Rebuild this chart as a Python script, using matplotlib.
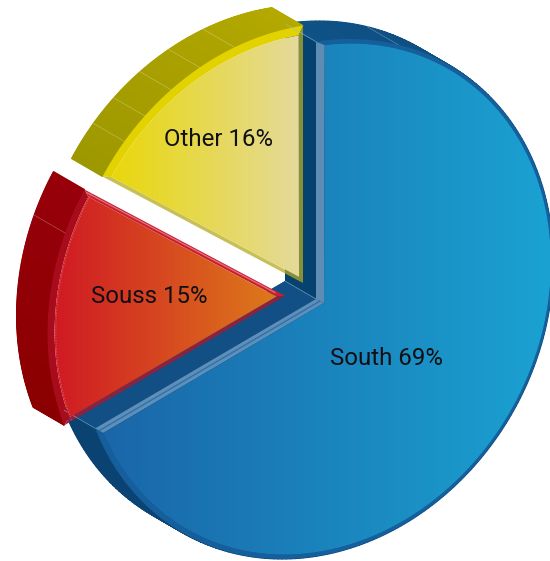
import numpy as np
import matplotlib
matplotlib.use("Agg")
import matplotlib.pyplot as plt
from matplotlib.colors import LinearSegmentedColormap, to_rgb
from matplotlib.patches import Polygon

# extruded, exploded pie of sales by region

names = ["Other", "Souss", "South"]
shares = [16, 15, 69]

# skewed ellipse used to project the pie, in pixels
A, B, C = 235.0, 34.0, 260.0
depth = np.array([-31.0, -18.0])
t0 = np.degrees(np.arctan2(A, -B))


def rim(t, k=1.0):
    t = np.radians(t)
    return k*np.column_stack([A*np.cos(t) + B*np.sin(t), -C*np.sin(t)])


def cross(a, b):
    return a[..., 0]*b[..., 1] - a[..., 1]*b[..., 0]


def face_outline(apex, inner, t1, t2, k, shift):
    # arc at scale k round apex, trimmed where it crosses the edges drawn from inner
    tt = np.linspace(t1, t2, 700)
    pts = apex + shift + rim(tt, k)
    keep = np.ones(len(tt), dtype=bool)
    d1, d2 = rim(np.array([t1, t2]))
    near1 = tt < t1 + 20
    near2 = tt > t2 - 20
    keep[near1] = cross(d1, pts[near1] - inner) < 0
    keep[near2] = cross(d2, pts[near2] - inner) > 0
    return pts[keep]


def blend(c1, c2, f):
    return tuple((1 - f)*np.array(to_rgb(c1)) + f*np.array(to_rgb(c2)))


def draw_slice(ax, s):
    t1, t2 = s["t1"], s["t2"]
    apex = np.array(s["apex"], dtype=float)
    inner = apex + s["inset"]
    tt = np.linspace(t1, t2, 240)
    outer = apex + rim(tt)

    # back plate and inner walls, only the big slice shows them
    if s["inner_walls"]:
        ax.add_patch(Polygon(np.vstack([apex + depth, outer + depth]), fc=s["wall"][0], ec="none"))
        ax.add_patch(Polygon([apex, apex + depth, outer[0] + depth, outer[0]], fc="#124f84", ec="none"))
        ax.add_patch(Polygon([apex, apex + depth, outer[-1] + depth, outer[-1]], fc="#06426f", ec="none"))

    # outer wall
    for i in range(len(tt) - 1):
        f = i/(len(tt) - 2)
        c = blend(s["wall"][0], s["wall"][1], f)
        ax.add_patch(Polygon([outer[i], outer[i+1], outer[i+1] + depth, outer[i] + depth],
                             fc=c, ec=c, lw=0.8))

    if s["inner_walls"]:
        for p in [apex, outer[0], outer[-1]]:
            ax.plot([p[0], p[0] + depth[0]], [p[1], p[1] + depth[1]], color="#9fbdd6", lw=0.5, alpha=0.7)

    # seams across the wall
    for t in s["seams"]:
        p = apex + rim(np.array([t]))[0]
        ax.plot([p[0], p[0] + depth[0]], [p[1], p[1] + depth[1]], color="white", lw=0.5, alpha=0.3)

    # rim bevel, a band between the outer arc and the face
    face = face_outline(apex, inner, t1, t2, s["k"], s["shift"])
    ax.add_patch(Polygon(np.vstack([outer, face[::-1]]), fc=s["bevel"], ec="none"))

    # edge bevels
    ax.add_patch(Polygon([apex, outer[0], face[0], inner], fc=s["strip1"], ec="none", alpha=s["alpha"]))
    ax.add_patch(Polygon([apex, outer[-1], face[-1], inner], fc=s["strip2"], ec="none", alpha=s["alpha"]))
    if s["line1"]:
        a = 0.5*(apex + inner)
        b = 0.5*(outer[0] + face[0])
        ax.plot([a[0], b[0]], [a[1], b[1]], color=s["line1"], lw=1.0, solid_capstyle="butt")

    # gradient front face
    poly = Polygon(np.vstack([inner, face]), fc="none", ec="none", transform=ax.transData)
    ax.add_patch(poly)
    cmap = LinearSegmentedColormap.from_list("face", s["grad"])
    x0, x1 = np.vstack([inner, face])[:, 0].min(), np.vstack([inner, face])[:, 0].max()
    y0, y1 = np.vstack([inner, face])[:, 1].min(), np.vstack([inner, face])[:, 1].max()
    im = ax.imshow(np.linspace(0, 1, 256)[None, :], cmap=cmap, extent=[x0, x1, y1, y0],
                   aspect="auto", interpolation="bilinear", zorder=2)
    im.set_clip_path(poly)


fig = plt.figure(figsize=(5.5, 5.61), dpi=100)
ax = fig.add_axes([0, 0, 1, 1])

sweeps = np.array(shares)/sum(shares)*360.0
starts = t0 + np.concatenate([[0], np.cumsum(sweeps)[:-1]])

styles = {
    "South": dict(apex=(316, 299), inset=np.array([8.0, 4.0]), k=0.983, shift=np.array([1.5, 0.0]),
                  wall=("#0a4272", "#0f5286"), inner_walls=True, seams=[78],
                  bevel="#155f9d", strip1="#5f8fb8", strip2="#5f8cb2", line1="#2c72ad", alpha=1.0,
                  grad=["#1b66a8", "#1aa2d2"]),
    "Other": dict(apex=(303, 283), inset=np.array([-4.0, -6.0]), k=0.965, shift=np.array([0.0, 0.0]),
                  wall=("#b4a900", "#9e9800"), inner_walls=False, seams=[147, 140, 132, 124, 115],
                  bevel="#e2d200", strip1="#b5aa20", strip2="#b5aa20", line1=None, alpha=0.75,
                  grad=["#e9d70a", "#e4da9a"]),
    "Souss": dict(apex=(285, 296), inset=np.array([-8.5, 0.5]), k=0.97, shift=np.array([0.0, 0.0]),
                  wall=("#97000a", "#8a0000"), inner_walls=False, seams=[166],
                  bevel="#a80c1c", strip1="#c9202f", strip2="#8a2340", line1=None, alpha=1.0,
                  grad=["#d01a24", "#dd7a1b"]),
}

# the big slice goes first, the two smaller ones sit in front of its walls
for i in [2, 0, 1]:
    s = dict(styles[names[i]])
    s["t1"] = starts[i]
    s["t2"] = starts[i] + sweeps[i]
    draw_slice(ax, s)

# highlight along the upper edge of the red slice
sp = np.array(styles["Souss"]["apex"], dtype=float)
up = sp + rim(np.array([starts[1]]))[0]
ax.plot([sp[0] - 10, up[0] + 2], [sp[1] - 3.5, up[1] + 3], color="#e4707e", lw=0.9, zorder=3)

# faint dashed line round the red face
tt = np.linspace(starts[1], starts[1] + sweeps[1], 100)
arc = sp + rim(tt, 0.965)
ax.plot(arc[:, 0], arc[:, 1], color="white", lw=0.5, ls=(0, (2, 2)), alpha=0.3, zorder=3)

label_pos = {"South": (386, 358), "Souss": (149.5, 296), "Other": (218, 139)}
for name, share in zip(names, shares):
    x, y = label_pos[name]
    ax.text(x, y, f"{name} {share}%", ha="center", va="center", fontsize=17.3,
            family="Roboto", color="#101014", zorder=5)

ax.set_xlim(0, 550)
ax.set_ylim(561, 0)
ax.axis("off")

fig.savefig("out.png", dpi=100)
